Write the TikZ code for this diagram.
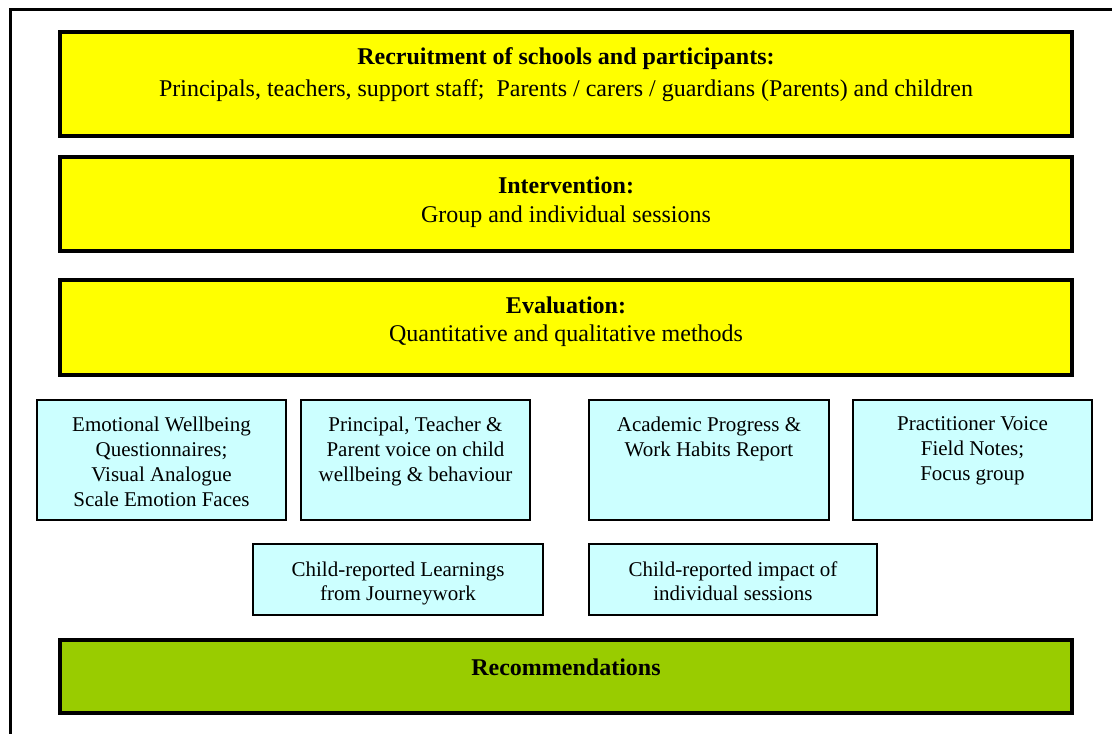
\documentclass[tikz,border=0pt]{standalone}
\usepackage{fontspec}
\setmainfont{Liberation Serif}
\usetikzlibrary{positioning}
\definecolor{stageyellow}{HTML}{FFFF00}
\definecolor{sourcecyan}{HTML}{CCFFFF}
\definecolor{outcomegreen}{HTML}{99CC00}
\tikzset{
frame/.style={draw, line width=1.5pt},
% wide stage boxes, text hangs from the top
stage/.style={draw, line width=1.75pt, fill=stageyellow,
    minimum width=506pt, inner xsep=0pt, inner ysep=7pt,
    font=\fontsize{12}{14}\selectfont,
    execute at begin node={\begin{minipage}[c][#1][t]{480pt}\centering},
    execute at end node={\end{minipage}}},
outcome/.style={stage=#1, fill=outcomegreen},
% data sources: width, height of the text area
source/.style 2 args={draw, line width=0.9pt, fill=sourcecyan,
    minimum width=#1, inner xsep=0pt, inner ysep=8.5pt,
    font=\fontsize{10.5}{12.5}\selectfont,
    execute at begin node={\begin{minipage}[c][#2][t]{110pt}\centering},
    execute at end node={\end{minipage}}},
}

\begin{document}
\begin{tikzpicture}[x=0.5pt, y=-0.5pt]
\clip (0,0) rectangle (1112,733);
\useasboundingbox (0,0) rectangle (1112,733);
\draw [frame] (10,10) rectangle (1130,760);

\node (recruit) [stage=36pt, inner ysep=8pt] at (566,84)
    {\textbf{Recruitment of schools and participants:}\\[2pt]
     Principals, teachers, support staff;\ \ Parents / carers / guardians (Parents) and children};
\node (interv) [stage=27pt, inner ysep=10pt] at (566,204)
    {\textbf{Intervention:}\\[0.5pt] Group and individual sessions};
\node (evalu) [stage=30.5pt, inner ysep=8.5pt] at (566,327.5)
    {\textbf{Evaluation:}\\ Quantitative and qualitative methods};

\node (wellbeing) [source={124.5pt}{43pt}] at (161.5,460)
    {Emotional Wellbeing\\ Questionnaires;\\ Visual Analogue\\ Scale Emotion Faces};
\node (adultvoice) [source={114.5pt}{43pt}] at (415.5,460)
    {Principal, Teacher \&\\ Parent voice on child\\ wellbeing \& behaviour};
\node (progress) [source={120pt}{43pt}] at (709,460)
    {Academic Progress \&\\ Work Habits Report};
\node (practvoice) [source={119.5pt}{43pt}] at (972.5,460)
    {Practitioner Voice\\ Field Notes;\\ Focus group};

\node (learnings) [source={145pt}{17.5pt}, inner ysep=9pt] at (398,579.5)
    {Child-reported Learnings\\[-0.5pt] from Journeywork};
\node (impact) [source={144pt}{17.5pt}, inner ysep=9pt] at (733,579.5)
    {Child-reported impact of\\[-0.5pt] individual sessions};

\node (recomm) [outcome=17.5pt, inner ysep=9.5pt] at (566,676.5) {\textbf{Recommendations}};
\end{tikzpicture}
\end{document}
